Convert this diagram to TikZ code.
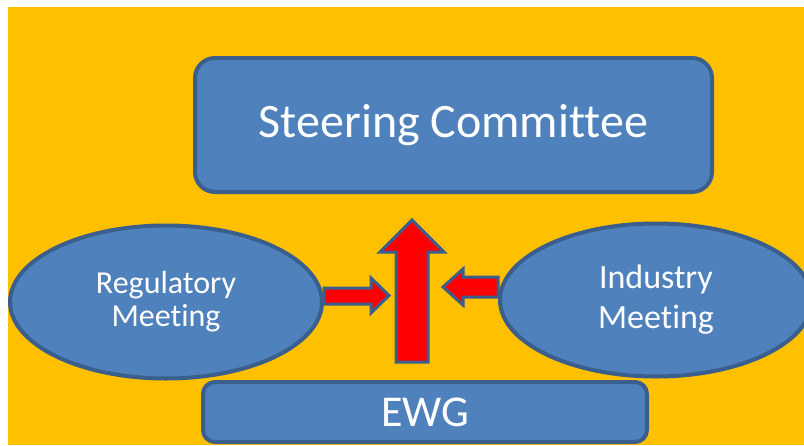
\documentclass[tikz,border=0pt]{standalone}
\usepackage{fontspec}
\setmainfont{Carlito}[Ligatures={NoCommon}]
\usetikzlibrary{shapes.geometric}
\definecolor{bgorange}{HTML}{FFC000}
\definecolor{boxfill}{HTML}{4F81BD}
\definecolor{boxline}{HTML}{3A5F8D}
\definecolor{arrowred}{HTML}{FF0000}
\tikzset{
  blk/.style={fill=boxfill, draw=boxline, line width=4pt, text=white, align=center, inner sep=0pt},
  rbox/.style={blk, rectangle, rounded corners=20pt},
  ell/.style={blk, ellipse},
  blockarrow/.style={fill=arrowred, draw=boxline, line width=3pt, line join=miter}
}
\begin{document}
\begin{tikzpicture}[x=1pt,y=-1pt]
\useasboundingbox (0,0) rectangle (804,445);
\fill[white] (0,0) rectangle (804,445);
\fill[bgorange] (8,7) rectangle (804,445);
\begin{scope}
\clip (8,7) rectangle (804,445);
\node[rbox, minimum width=517pt, minimum height=134pt, font=\fontsize{48}{56}\selectfont] (sc) at (453.5,125) {Steering Committee};
\node[ell, minimum width=312pt, minimum height=153pt, font=\fontsize{32}{33}\selectfont] (reg) at (166,302) {Regulatory\\Meeting};
\node[ell, minimum width=312pt, minimum height=153pt, font=\fontsize{34}{40}\selectfont] (ind) at (656,300) {Industry\\Meeting};
\node[rbox, rounded corners=12pt, minimum width=444pt, minimum height=60pt, font=\fontsize{44}{50}\selectfont] (ewg) at (425,412) {EWG};
\end{scope}
% block arrows
\filldraw[blockarrow] (396,362) -- (396,252) -- (380,252) -- (412,220) -- (444,252) -- (428,252) -- (428,362) -- cycle;
\filldraw[blockarrow] (reg.east |- 0,288) -- (371,288) -- (371,278) -- (389,295.5) -- (371,313) -- (371,304) -- (reg.east |- 0,304) -- cycle;
\filldraw[blockarrow] (ind.west |- 0,277) -- (463,277) -- (463,269) -- (443,287) -- (463,305) -- (463,297) -- (ind.west |- 0,297) -- cycle;
\end{tikzpicture}
\end{document}
